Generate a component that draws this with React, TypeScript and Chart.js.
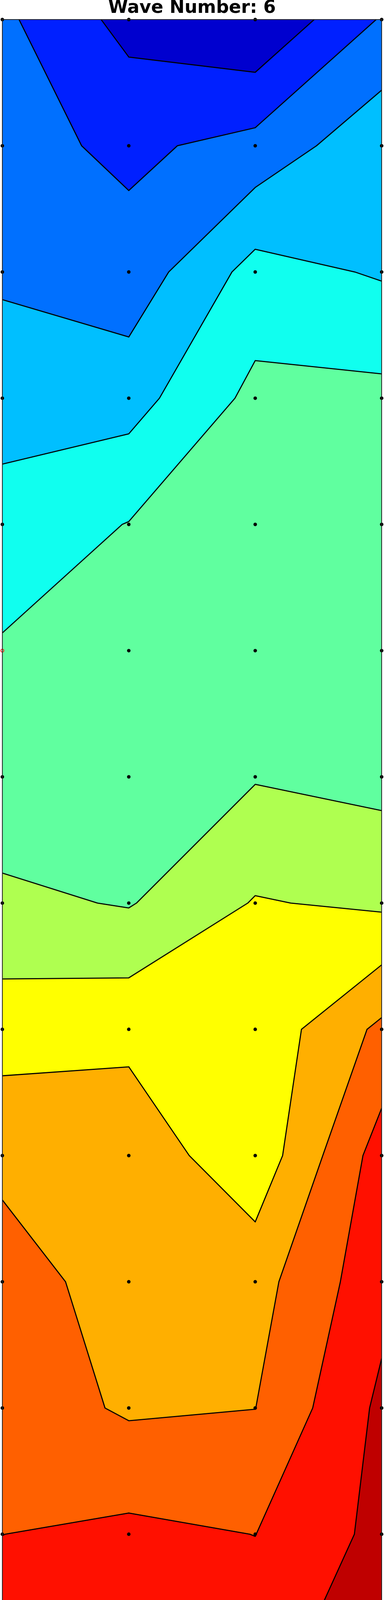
import React, { useEffect, useRef } from "react";
import { Chart, registerables } from "chart.js";

Chart.register(...registerables);

// Grid: 4 columns (x) by 16 rows (y, row 0 at the top)
const xColumns = [0, 1, 2, 3];
const yRows = [0, 1, 2, 3, 4, 5, 6, 7, 8, 9, 10, 11, 12, 13, 14, 15];

// Field values, one array per column (top row first)
const col0Values = [2.203, 2.341, 2.842, 3.563, 4.4, 5.098, 5.328, 6.21, 7.524, 8.817, 9.337, 9.596, 9.995, 10.41, 10.56, 11.862];
const col1Values = [0.663, 1.797, 2.369, 3.594, 5.033, 5.25, 5.5, 5.931, 7.736, 8.625, 8.663, 8.862, 10.23, 11.36, 11.82, 12.424];
const col2Values = [0.048, 2.325, 4.368, 5.268, 5.5, 5.65, 5.933, 7.067, 7.295, 7.318, 8.615, 8.99, 9.99, 10.577, 10.895, 11.326];
const col3Values = [2.088, 3.717, 3.901, 5.262, 5.45, 5.55, 5.698, 6.828, 9.223, 10.466, 10.672, 11.212, 11.278, 11.859, 12.44, 12.908];

// Contour levels
const contourLevels = [1, 2, 3, 4, 5, 6, 7, 8, 9, 10, 11, 12];

// Highlighted grid point
const markedX = [0];
const markedY = [5];

const titleText = "Wave Number: 6";

// Band colours (jet colormap samples), lowest band first
const bandColors = [
  "rgb(0,0,207)",
  "rgb(0,32,255)",
  "rgb(0,112,255)",
  "rgb(0,191,255)",
  "rgb(16,255,239)",
  "rgb(96,255,159)",
  "rgb(175,255,80)",
  "rgb(255,255,0)",
  "rgb(255,175,0)",
  "rgb(255,96,0)",
  "rgb(255,16,0)",
  "rgb(191,0,0)",
  "rgb(128,0,0)",
];

const columns = [col0Values, col1Values, col2Values, col3Values];

type P = { x: number; y: number; z: number };

function zAt(c: number, r: number) {
  return columns[c][r];
}

function cellCorners(c: number, r: number): P[] {
  return [
    { x: xColumns[c], y: yRows[r], z: zAt(c, r) },
    { x: xColumns[c + 1], y: yRows[r], z: zAt(c + 1, r) },
    { x: xColumns[c + 1], y: yRows[r + 1], z: zAt(c + 1, r + 1) },
    { x: xColumns[c], y: yRows[r + 1], z: zAt(c, r + 1) },
  ];
}

function lerpP(a: P, b: P, level: number): P {
  const t = (level - a.z) / (b.z - a.z);
  return { x: a.x + t * (b.x - a.x), y: a.y + t * (b.y - a.y), z: level };
}

function clipAbove(poly: P[], level: number): P[] {
  const out: P[] = [];
  const n = poly.length;
  for (let i = 0; i < n; i++) {
    const cur = poly[i];
    const prev = poly[(i + n - 1) % n];
    const cIn = cur.z >= level;
    const pIn = prev.z >= level;
    if (cIn) {
      if (!pIn) out.push(lerpP(prev, cur, level));
      out.push(cur);
    } else if (pIn) {
      out.push(lerpP(prev, cur, level));
    }
  }
  return out;
}

function cellSegments(poly: P[], level: number): [P, P][] {
  const cross: { p: P; exit: boolean }[] = [];
  const n = poly.length;
  for (let i = 0; i < n; i++) {
    const a = poly[i];
    const b = poly[(i + 1) % n];
    const aIn = a.z >= level;
    const bIn = b.z >= level;
    if (aIn !== bIn) cross.push({ p: lerpP(a, b, level), exit: aIn && !bIn });
  }
  const segs: [P, P][] = [];
  for (let i = 0; i < cross.length; i++) {
    if (cross[i].exit) {
      const nx = cross[(i + 1) % cross.length];
      segs.push([cross[i].p, nx.p]);
    }
  }
  return segs;
}

const contourPlugin = {
  id: "contourFill",
  beforeDatasetsDraw(chart: any) {
    const ctx = chart.ctx as CanvasRenderingContext2D;
    const xs = chart.scales.x;
    const ys = chart.scales.y;
    const area = chart.chartArea;
    const px = (p: P) => xs.getPixelForValue(p.x);
    const py = (p: P) => ys.getPixelForValue(p.y);
    ctx.save();
    ctx.beginPath();
    ctx.rect(area.left, area.top, area.right - area.left, area.bottom - area.top);
    ctx.clip();

    // filled bands
    for (let k = 0; k < bandColors.length; k++) {
      ctx.beginPath();
      for (let c = 0; c < xColumns.length - 1; c++) {
        for (let r = 0; r < yRows.length - 1; r++) {
          let poly = cellCorners(c, r);
          if (k > 0) poly = clipAbove(poly, contourLevels[k - 1]);
          if (poly.length < 3) continue;
          ctx.moveTo(px(poly[0]), py(poly[0]));
          for (let i = 1; i < poly.length; i++) ctx.lineTo(px(poly[i]), py(poly[i]));
          ctx.closePath();
        }
      }
      ctx.fillStyle = bandColors[k];
      ctx.fill("nonzero");
    }

    // contour lines
    ctx.strokeStyle = "#000";
    ctx.lineWidth = 2.8;
    ctx.lineCap = "round";
    ctx.lineJoin = "round";
    ctx.beginPath();
    for (const level of contourLevels) {
      for (let c = 0; c < xColumns.length - 1; c++) {
        for (let r = 0; r < yRows.length - 1; r++) {
          const segs = cellSegments(cellCorners(c, r), level);
          for (const [a, b] of segs) {
            ctx.moveTo(px(a), py(a));
            ctx.lineTo(px(b), py(b));
          }
        }
      }
    }
    ctx.stroke();
    ctx.restore();
  },
  afterDatasetsDraw(chart: any) {
    const ctx = chart.ctx as CanvasRenderingContext2D;
    const area = chart.chartArea;
    ctx.save();
    ctx.strokeStyle = "#262626";
    ctx.lineWidth = 2;
    ctx.strokeRect(area.left, area.top, area.right - area.left, area.bottom - area.top);
    ctx.restore();
  },
};

export default function App() {
  const ref = useRef<HTMLCanvasElement | null>(null);

  useEffect(() => {
    if (!ref.current) return;
    const gridPts: { x: number; y: number }[] = [];
    for (const r of yRows) {
      for (const c of xColumns) {
        const marked = markedX.some((mx, i) => mx === c && markedY[i] === r);
        if (!marked) gridPts.push({ x: c, y: r });
      }
    }
    const markedPts = markedX.map((mx, i) => ({ x: mx, y: markedY[i] }));

    const chart = new Chart(ref.current, {
      type: "scatter",
      data: {
        datasets: [
          {
            data: gridPts,
            pointRadius: 4.5,
            pointBackgroundColor: "#000",
            pointBorderWidth: 0,
            clip: false as any,
          },
          {
            data: markedPts,
            pointRadius: 3.8,
            pointBackgroundColor: "rgba(0,0,0,0)",
            pointBorderColor: "#ff0000",
            pointBorderWidth: 1.8,
            clip: false as any,
          },
        ],
      },
      options: {
        animation: false,
        responsive: false,
        devicePixelRatio: 1,
        layout: { padding: { left: 6, right: 6, top: 0, bottom: 8 } },
        scales: {
          x: { type: "linear", min: 0, max: 3, display: false },
          y: { type: "linear", min: 0, max: 15, reverse: true, display: false },
        },
        plugins: {
          legend: { display: false },
          tooltip: { enabled: false },
          title: {
            display: true,
            text: titleText,
            color: "#000",
            font: { family: "DejaVu Sans", size: 46, weight: "bold", lineHeight: 0.913 },
            padding: { top: 0, bottom: 8 },
          },
        },
      },
      plugins: [contourPlugin],
    });
    return () => chart.destroy();
  }, []);

  return (
    <div style={{ position: "absolute", left: 0, top: 0, width: 984, height: 4905, background: "#fff" }}>
      <canvas ref={ref} width={984} height={4905} style={{ display: "block", width: 984, height: 4905 }} />
    </div>
  );
}
